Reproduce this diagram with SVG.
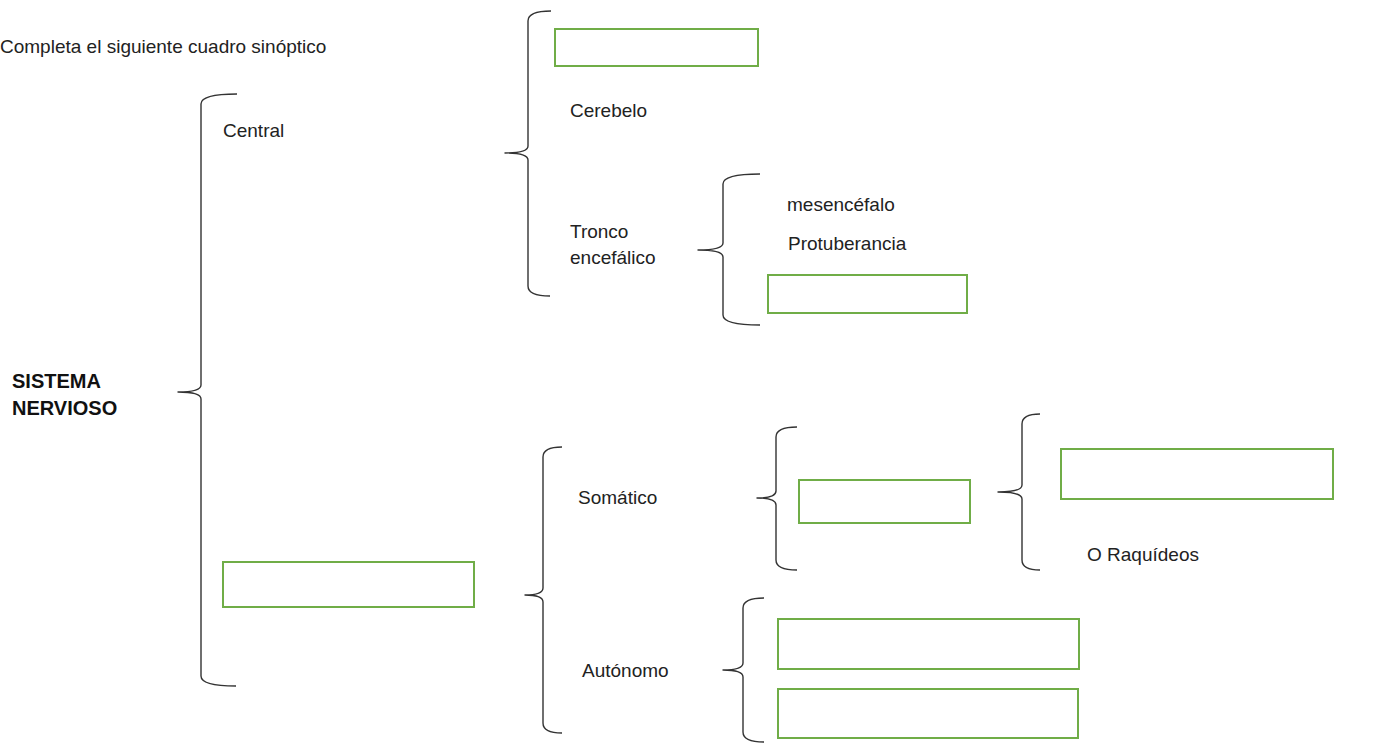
<svg xmlns="http://www.w3.org/2000/svg" width="1373" height="745" viewBox="0 0 1373 745">
<style>
text{font-family:"Liberation Sans",Arial,sans-serif;font-size:19px;fill:#222}
.b{font-weight:bold;font-size:20px;fill:#111}
.box{fill:#fff;stroke:#70AD47;stroke-width:2}
.br{fill:none;stroke:#333;stroke-width:1.4;stroke-linejoin:round}
</style>
<rect width="1373" height="745" fill="#fff"/>
<g id="title"><text x="0" y="53">Completa el siguiente cuadro sinóptico</text></g>
<g id="connectors">
<path class="br" d="M237 94 Q201 94 201 104 L201 385 Q201 392 178 392 Q201 392 201 399 L201 676 Q201 686 236 686"/>
<path class="br" d="M551 11 Q528 11 528 21 L528 146 Q528 153 505 153 Q528 153 528 160 L528 286 Q528 296 550 296"/>
<path class="br" d="M760 174 Q723 174 723 184 L723 243 Q723 250 698 250 Q723 250 723 257 L723 315 Q723 325 760 325"/>
<path class="br" d="M562 447 Q543 447 543 457 L543 588 Q543 595 525 595 Q543 595 543 602 L543 723 Q543 733 562 733"/>
<path class="br" d="M797 427 Q776 427 776 437 L776 491 Q776 498 757 498 Q776 498 776 505 L776 560 Q776 570 797 570"/>
<path class="br" d="M1040 414 Q1022 414 1022 424 L1022 485 Q1022 492 998 492 Q1022 492 1022 499 L1022 560 Q1022 570 1040 570"/>
<path class="br" d="M764 598 Q743 598 743 608 L743 663 Q743 670 723 670 Q743 670 743 677 L743 732 Q743 742 764 742"/>
</g>
<g id="sistema"><text class="b" x="12" y="388">SISTEMA</text><text class="b" x="12" y="415">NERVIOSO</text></g>
<g id="central"><text x="223" y="137">Central</text></g>
<g id="box-encefalo"><rect class="box" x="555" y="29" width="203" height="37"/></g>
<g id="cerebelo"><text x="570" y="117">Cerebelo</text></g>
<g id="tronco"><text x="570" y="238">Tronco</text><text x="570" y="264">encefálico</text></g>
<g id="mesencefalo"><text x="787" y="211">mesencéfalo</text></g>
<g id="protuberancia"><text x="788" y="250">Protuberancia</text></g>
<g id="box-bulbo"><rect class="box" x="768" y="275" width="199" height="38"/></g>
<g id="box-periferico"><rect class="box" x="223" y="562" width="251" height="45"/></g>
<g id="somatico"><text x="578" y="504">Somático</text></g>
<g id="autonomo"><text x="582" y="677">Autónomo</text></g>
<g id="box-nervios"><rect class="box" x="799" y="480" width="171" height="43"/></g>
<g id="box-craneales"><rect class="box" x="1061" y="449" width="272" height="50"/></g>
<g id="raquideos"><text x="1087" y="561">O Raquídeos</text></g>
<g id="box-simpatico"><rect class="box" x="778" y="619" width="301" height="50"/></g>
<g id="box-parasimpatico"><rect class="box" x="778" y="689" width="300" height="49"/></g>
</svg>
